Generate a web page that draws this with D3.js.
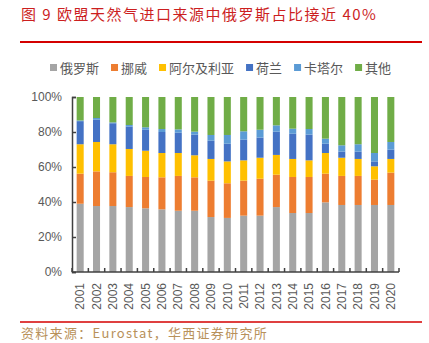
<!DOCTYPE html>
<html>
<head>
<meta charset="utf-8">
<script src="https://cdn.jsdelivr.net/npm/d3@7"></script>
<style>
  body { margin: 0; background: #fff; }
  text { font-family: "Liberation Sans", Arial, "Noto Sans CJK SC", sans-serif; }
  .cjk { font-family: "Noto Sans CJK SC", sans-serif; }
</style>
</head>
<body>
<svg id="chart" width="429" height="343"></svg>
<script>
// years on the x axis
var years = ["2001","2002","2003","2004","2005","2006","2007","2008","2009","2010",
             "2011","2012","2013","2014","2015","2016","2017","2018","2019","2020"];

// share of EU gas imports by source, %
var russia  = [39.0,37.7,37.7,37.1,36.4,35.8,35.0,35.0,31.4,30.9,32.2,32.2,37.1,33.7,33.7,39.8,38.3,38.3,38.3,38.3];
var norway  = [17.2,19.8,19.3,17.8,17.9,18.3,19.9,19.1,20.8,19.8,20.0,21.1,18.5,20.6,20.6,16.4,16.6,16.6,14.5,18.5];
var algeria = [16.8,16.8,16.0,15.4,15.0,13.9,13.1,12.6,12.4,12.5,11.6,12.0,11.3,10.3, 9.5,11.8,10.4, 9.7, 7.6, 7.8];
var neth    = [13.2,12.7,12.0,12.7,12.0,12.0,11.6,11.8,10.4,10.1,11.8,11.5,13.3,14.4,14.7, 5.3, 3.5, 4.2, 2.8, 5.3];
var qatar   = [ 0.4, 1.0, 0.5, 1.0, 1.4, 1.7, 1.9, 1.7, 3.3, 5.0, 4.8, 4.5, 3.6, 2.9, 3.2, 2.9, 3.6, 4.2, 4.8, 4.4];
var others  = [13.4,12.0,14.5,16.0,17.3,18.3,18.5,19.8,21.7,21.7,19.6,18.7,16.2,18.1,18.3,23.8,27.6,27.0,32.0,25.7];

var seriesNames = ["俄罗斯","挪威","阿尔及利亚","荷兰","卡塔尔","其他"];
var colors = ["#a5a5a5","#ed7d31","#ffc000","#4472c4","#5b9bd5","#70ad47"];
var yTicks = [0, 20, 40, 60, 80, 100];

var title = "图 9  欧盟天然气进口来源中俄罗斯占比接近 40%";
var source = "资料来源：Eurostat，华西证券研究所";

var svg = d3.select("#chart");

var margin = { top: 97, left: 72, right: 30, bottom: 71 },
    w = 429, h = 343,
    x0 = margin.left, x1 = w - margin.right,
    yTop = margin.top, yBot = h - margin.bottom;

// build rows for the stack
var rows = years.map(function (y, i) {
  var tot = russia[i] + norway[i] + algeria[i] + neth[i] + qatar[i] + others[i];
  return { year: y, "俄罗斯": russia[i], "挪威": norway[i], "阿尔及利亚": algeria[i],
           "荷兰": neth[i], "卡塔尔": qatar[i], "其他": others[i], tot: tot };
});
// normalise to 100
rows.forEach(function (r) {
  seriesNames.forEach(function (k) { r[k] = r[k] / r.tot * 100; });
});

var stacked = d3.stack().keys(seriesNames)(rows);

var xScale = d3.scaleBand().domain(years).range([x0, x1]).paddingInner(0.57).paddingOuter(0.285);
var yScale = d3.scaleLinear().domain([0, 100]).range([yBot, yTop]);

/* title + red rule */
svg.append("text")
  .attr("class", "cjk")
  .attr("x", 21).attr("y", 20)
  .attr("fill", "#cc1f1f")
  .style("font-size", "15px")
  .style("letter-spacing", "1.5px")
  .text(title);

svg.append("line")
  .attr("x1", 20).attr("x2", 422).attr("y1", 42).attr("y2", 42)
  .attr("stroke", "#d40000").attr("stroke-width", 2);

/* legend */
var legend = svg.append("g").attr("transform", "translate(0,68)");
var lx = 50;
seriesNames.forEach(function (name, i) {
  legend.append("rect")
    .attr("x", lx).attr("y", -4)
    .attr("width", 7).attr("height", 7)
    .attr("fill", colors[i]);
  var t = legend.append("text")
    .attr("class", "cjk")
    .attr("x", lx + 10).attr("y", 0)
    .attr("dy", "0.35em")
    .attr("fill", "#595959")
    .style("font-size", "13px")
    .text(name);
  lx += 10 + t.node().getComputedTextLength() + 12;
});

/* bars */
svg.append("g").selectAll("g")
  .data(stacked)
  .enter().append("g")
    .attr("fill", function (d, i) { return colors[i]; })
  .selectAll("rect")
  .data(function (d) { return d; })
  .enter().append("rect")
    .attr("x", function (d) { return xScale(d.data.year); })
    .attr("width", xScale.bandwidth())
    .attr("y", function (d) { return yScale(d[1]); })
    .attr("height", function (d) { return yScale(d[0]) - yScale(d[1]); });

/* y axis */
var yAxis = svg.append("g")
  .attr("transform", "translate(" + x0 + ",0)")
  .call(d3.axisLeft(yScale).tickValues(yTicks)
        .tickSize(-4).tickPadding(10)
        .tickFormat(function (d) { return d + "%"; }));
yAxis.select(".domain").attr("stroke", "#404040").attr("stroke-width", 1.5);
yAxis.selectAll(".tick line").attr("stroke", "#404040").attr("stroke-width", 1.5);
yAxis.selectAll(".tick text").attr("fill", "#595959").style("font-size", "12px");

/* x axis: ticks between categories, pointing up */
var xAxis = svg.append("g").attr("transform", "translate(0," + yBot + ")");
xAxis.append("line")
  .attr("x1", x0).attr("x2", x1).attr("y1", 0).attr("y2", 0)
  .attr("stroke", "#404040").attr("stroke-width", 1.5);
xAxis.selectAll("line.sep")
  .data(years.concat(["end"]))
  .enter().append("line")
    .attr("class", "sep")
    .attr("x1", function (d, i) { return x0 + i * xScale.step(); })
    .attr("x2", function (d, i) { return x0 + i * xScale.step(); })
    .attr("y1", 0).attr("y2", -4)
    .attr("stroke", "#404040").attr("stroke-width", 1.5);
xAxis.selectAll("text")
  .data(years)
  .enter().append("text")
    .attr("transform", function (d) {
      return "translate(" + (xScale(d) + xScale.bandwidth() / 2) + ",11) rotate(-90)";
    })
    .attr("text-anchor", "end")
    .attr("dy", "0.35em")
    .attr("fill", "#595959")
    .style("font-size", "12px")
    .text(function (d) { return d; });

/* source + red rule */
svg.append("line")
  .attr("x1", 20).attr("x2", 422).attr("y1", 322).attr("y2", 322)
  .attr("stroke", "#d40000").attr("stroke-width", 1.5);

svg.append("text")
  .attr("class", "cjk")
  .attr("x", 21).attr("y", 338)
  .attr("fill", "#b8915a")
  .style("font-size", "13px")
  .style("letter-spacing", "1.3px")
  .text(source);
</script>
</body>
</html>
